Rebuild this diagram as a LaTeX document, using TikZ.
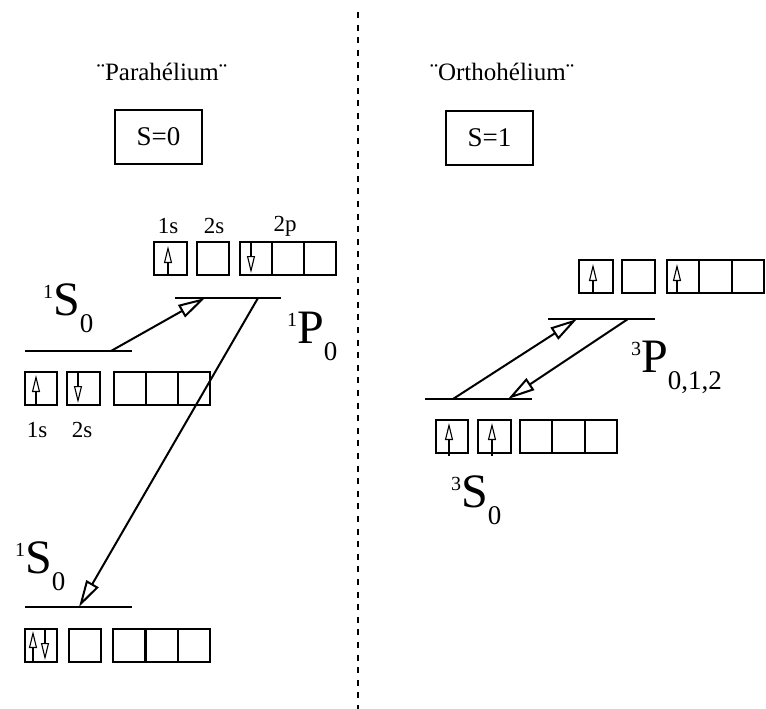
\documentclass[tikz,border=0pt]{standalone}
\usepackage{fontspec}
\setmainfont{Liberation Serif}
\usetikzlibrary{arrows.meta}

% term symbol: superscript multiplicity, letter, subscript J
\newcommand\termsym[3]{%
  {\fontsize{20}{20}\selectfont\raisebox{17pt}{#1}}%
  {\fontsize{48}{48}\selectfont #2}%
  {\fontsize{27}{27}\selectfont\raisebox{-17pt}{#3}}}

\tikzset{
  orb/.style={draw, line width=2pt, minimum width=32pt, minimum height=33pt, inner sep=0pt},
  level/.style={line width=2.2pt},
  trans/.style={line width=2pt, -{Triangle[open, length=27pt, width=14pt, line width=2pt]}},
  elec/.style={line width=1.1pt, -{Triangle[open, length=17pt, width=8pt, line width=1.1pt]}},
  lbl/.style={font=\fontsize{23}{23}\selectfont, inner sep=0pt},
  head/.style={font=\fontsize{25}{25}\selectfont, inner sep=0pt},
  spin/.style={draw, line width=2pt, minimum width=87pt, minimum height=54pt, font=\fontsize{27}{27}\selectfont},
  term/.style={anchor=base west, inner sep=0pt}
}

\begin{document}
\begin{tikzpicture}[x=1pt, y=-1pt]
\useasboundingbox (0,0) rectangle (766,709);

% separator
\draw[line width=1.1pt, dash pattern=on 6pt off 6.6pt] (358,12) coordinate (sepT) -- (358,709) coordinate (sepB);

% headings
\node[head] (para) at (162,72) {¨Parahélium¨};
\node[head] (ortho) at (502,72) {¨Orthohélium¨};
\node[spin] (s0) at (158.5,137) {S=0};
\node[spin] (s1) at (489.5,137.5) {S=1};

% ---------- parahelium ----------
% excited 1P configuration
\node[lbl] (lp1s) at (168,226) {1s};
\node[lbl] (lp2s) at (214,226) {2s};
\node[lbl] (lp2p) at (285,226) {2p};
\node[orb, minimum width=33pt] (p1s) at (170.5,258) {};
\node[orb] (p2s) at (213,258) {};
\node[orb] (p2a) at (256,258) {};
\node[orb] (p2b) at (288,258) {};
\node[orb] (p2c) at (320,258) {};
\draw[elec] (168,274) -- (168,246);
\draw[elec] (251,242) -- (251,273);

% level lines
\draw[level] (25,351) coordinate (ls1a) -- (132,351) coordinate (ls1b);
\draw[level] (175,298) coordinate (lp1a) -- (281,298) coordinate (lp1b);
\draw[level] (25,607) coordinate (lg1a) -- (132,607) coordinate (lg1b);

% excited 1S configuration
\node[orb] (m1s) at (41,388.5) {};
\node[orb, minimum width=33pt] (m2s) at (83.5,388.5) {};
\node[orb] (m2a) at (130,388.5) {};
\node[orb] (m2b) at (162,388.5) {};
\node[orb] (m2c) at (194,388.5) {};
\draw[elec] (36,405) -- (36,375);
\draw[elec] (78,372) -- (78,403);
\node[lbl] (lm1s) at (37,430) {1s};
\node[lbl] (lm2s) at (82,430) {2s};

% ground configuration
\node[orb] (g1s) at (41,645.5) {};
\node[orb] (g2s) at (85,645.5) {};
\node[orb] (g2a) at (129,645.5) {};
\node[orb] (g2b) at (161.5,645.5) {};
\node[orb] (g2c) at (194,645.5) {};
\draw[elec] (33,662) -- (33,631);
\draw[elec] (45,629) -- (45,660);

% term symbols
\node[term] (t1) at (43,315) {\termsym{1}{S}{0}};
\node[term] (t2) at (15,573) {\termsym{1}{S}{0}};
\node[term] (t3) at (287,343) {\termsym{1}{P}{0}};

% transitions
\coordinate (a1s) at (111,351);
\coordinate (a1e) at (205,298);
\coordinate (a2s) at (258,298);
\coordinate (a2e) at (79,607);
\draw[trans] (a1s) -- (a1e);
\draw[trans] (a2s) -- (a2e);

% ---------- orthohelium ----------
\node[orb, minimum width=34pt] (o1s) at (596,276.5) {};
\node[orb, minimum width=33pt] (o2s) at (638.5,276.5) {};
\node[orb] (o2a) at (683,276.5) {};
\node[orb, minimum width=33pt] (o2b) at (715.5,276.5) {};
\node[orb] (o2c) at (748,276.5) {};
\draw[elec] (593,293) -- (593,264);
\draw[elec] (677,293) -- (677,264);

\draw[level] (548,319) coordinate (lo3a) -- (655,319) coordinate (lo3b);
\draw[level] (425,399) coordinate (lo1a) -- (532,399) coordinate (lo1b);

\node[orb] (q1s) at (452,436.5) {};
\node[orb, minimum width=33pt] (q2s) at (494.5,436.5) {};
\node[orb] (q2a) at (536,436.5) {};
\node[orb, minimum width=33pt] (q2b) at (568.5,436.5) {};
\node[orb] (q2c) at (601,436.5) {};
\draw[elec] (449,456) -- (449,423);
\draw[elec] (492,456) -- (492,423);

\node[term] (t4) at (631,372) {\termsym{3}{P}{0,1,2}};
\node[term] (t5) at (451,507) {\termsym{3}{S}{0}};

\coordinate (a3s) at (453,399);
\coordinate (a3e) at (577,319);
\coordinate (a4s) at (628,319);
\coordinate (a4e) at (508,399);
\draw[trans] (a3s) -- (a3e);
\draw[trans] (a4s) -- (a4e);
\end{tikzpicture}
\end{document}
